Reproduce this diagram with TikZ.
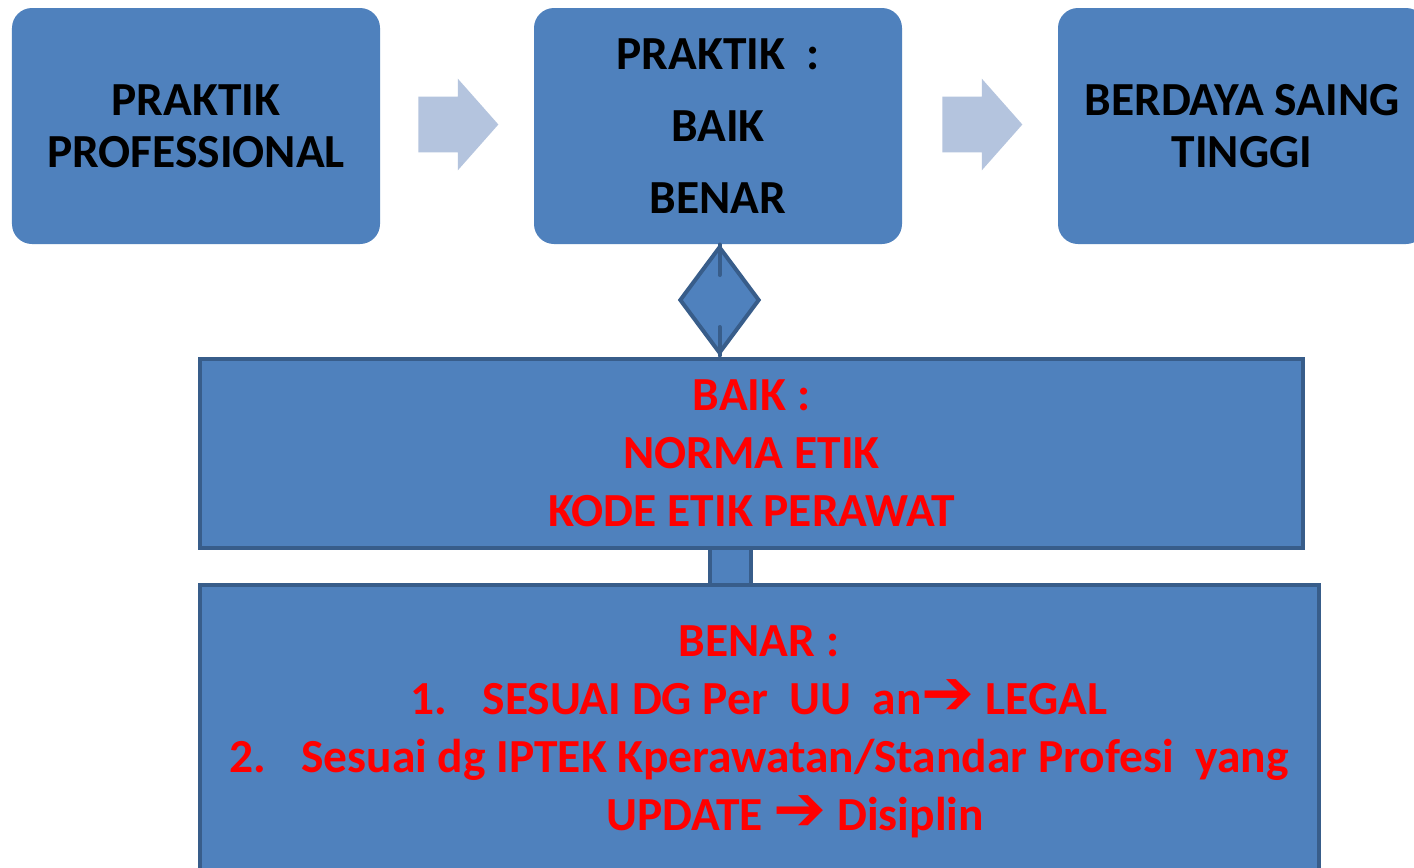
\documentclass[tikz,border=0pt]{standalone}
\usepackage{fontspec}
\setmainfont{Carlito}
\newfontfamily\arrowfont{DejaVu Sans}
\usetikzlibrary{shapes.geometric,shapes.arrows}
\definecolor{boxblue}{HTML}{4F81BD}
\definecolor{boxline}{HTML}{385D8A}
\definecolor{arrowblue}{HTML}{B4C4DE}
\definecolor{textred}{HTML}{FF0000}
\newcommand{\slidetext}[1]{\fontsize{27}{#1}\selectfont\bfseries}
\newcommand{\tipto}{{\arrowfont\fontsize{36}{33}\selectfont\char"2794}}

\begin{document}
\begin{tikzpicture}[
        topbox/.style={fill=boxblue, rounded corners=0.4cm, minimum width=7.36cm, minimum height=4.72cm, align=center, inner sep=0pt},
        flowarrow/.style={single arrow, fill=arrowblue, minimum height=1.6cm, minimum width=1.82cm, single arrow head extend=0.36cm, single arrow tip angle=97, inner xsep=0pt, inner ysep=0.55cm, anchor=tail},
        etikbox/.style={fill=boxblue, draw=boxline, line width=0.08cm, align=center, inner sep=0pt},
        stub/.style={draw=boxline, line width=0.08cm, line cap=round}
    ]
        \clip (0, 0) rectangle (28.28, -17.34);
        \fill[white] (0, 0) rectangle (28.28, -17.34);

        % top row
        \node[topbox, font=\slidetext{29.5}] (profesional) at (3.92, -2.52) {PRAKTIK\\PROFESSIONAL};
        \node[topbox, font=\slidetext{41}] (praktik) at (14.36, -2.52) {PRAKTIK\ \ :\\BAIK\\BENAR};
        \node[topbox, font=\slidetext{29.5}] (saing) at (24.84, -2.52) {BERDAYA SAING\\TINGGI};
        \node[flowarrow] (arrowa) at (8.36, -2.49) {};
        \node[flowarrow] (arrowb) at (18.84, -2.49) {};

        % lower boxes
        \node[etikbox, minimum width=0.82cm, minimum height=0.9cm] (link) at (14.61, -11.3) {};
        \node[etikbox, minimum width=22.06cm, minimum height=3.78cm, text=textred, font=\slidetext{33}] (baik) at (15.03, -9.07)
            {BAIK :\\NORMA ETIK\\KODE ETIK PERAWAT};
        \node[etikbox, minimum width=22.38cm, minimum height=6cm, anchor=north] (benar) at (15.19, -11.66) {};
        \node[align=center, text=textred, font=\slidetext{33}] (benartext) at (15.18, -14.63)
            {BENAR :\\
            1.\hspace{0.7cm}SESUAI DG Per\ \ UU\ \ an\tipto\ LEGAL\\
            2.\hspace{0.7cm}Sesuai dg IPTEK Kperawatan/Standar Profesi\ \ yang\\
            \hspace*{1.44cm}UPDATE \tipto\ Disiplin};

        % diamond between
        \node[diamond, fill=boxblue, draw=boxline, line width=0.08cm, minimum width=1.6cm, minimum height=2.14cm, inner sep=0pt] (gem) at (14.39, -6.0) {};
        \coordinate (gemtop) at (14.39, -5.5);
        \coordinate (gembottom) at (14.39, -6.54);
        \draw[stub] (gem.north) -- (gemtop);
        \draw[stub] (gem.south) -- (gembottom);
    \end{tikzpicture}
\end{document}
